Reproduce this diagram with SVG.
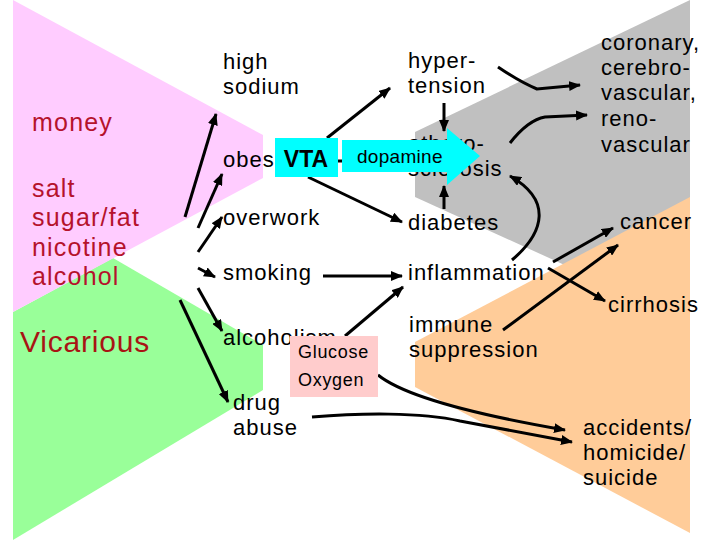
<svg xmlns="http://www.w3.org/2000/svg" width="720" height="540" viewBox="0 0 720 540">
<defs>
<style>
text{font-family:"Liberation Sans",Arial,sans-serif;}
.lbl{font-size:22px;letter-spacing:1px;fill:#000;}
.red{font-size:25px;letter-spacing:1.2px;fill:#b5122c;}
.con{fill:none;stroke:#000;stroke-width:3;marker-end:url(#ah);}
</style>
<marker id="ah" markerUnits="userSpaceOnUse" markerWidth="12" markerHeight="10" refX="11" refY="5" orient="auto">
<path d="M0,0 L12,5 L0,10 z" fill="#000"/>
</marker>
</defs>
<rect width="720" height="540" fill="#fff"/>
<g id="regions">
<polygon points="13,312 113,258 263,345 263,390 13,540" fill="#99ff99"/>
<polygon points="13,0 263,135 263,178 13,312" fill="#ffccff"/>
<polygon points="690,0 415,132 415,197 690,322" fill="#c0c0c0"/>
<polygon points="690,197 415,342 415,387 690,533" fill="#ffcc99"/>
</g>
<g id="causes">
<text class="red" x="32" y="131">money</text>
<text class="red" x="32" y="197">salt</text>
<text class="red" x="32" y="226">sugar/fat</text>
<text class="red" x="32" y="256">nicotine</text>
<text class="red" x="32" y="285">alcohol</text>
<text x="20" y="352" style="font-size:30px;letter-spacing:0.8px;fill:#a81414">Vicarious</text>
</g>
<g id="n-highsodium"><text class="lbl" x="223" y="69">high</text><text class="lbl" x="223" y="94">sodium</text></g>
<g id="n-obesity"><text class="lbl" x="223" y="167">obesity</text></g>
<g id="n-overwork"><text class="lbl" x="223" y="225">overwork</text></g>
<g id="n-smoking"><text class="lbl" x="223" y="280">smoking</text></g>
<g id="n-alcoholism"><text class="lbl" x="223" y="345">alcoholism</text></g>
<g id="n-drugabuse"><text class="lbl" x="233" y="410">drug</text><text class="lbl" x="233" y="435">abuse</text></g>
<g id="n-hypertension"><text class="lbl" x="408" y="68">hyper-</text><text class="lbl" x="408" y="93">tension</text></g>
<g id="n-atherosclerosis"><text class="lbl" x="408" y="151">athero-</text><text class="lbl" x="408" y="176">sclerosis</text></g>
<g id="n-diabetes"><text class="lbl" x="408" y="230">diabetes</text></g>
<g id="n-inflammation"><text class="lbl" x="408" y="280">inflammation</text></g>
<g id="n-immune"><text class="lbl" x="409" y="332">immune</text><text class="lbl" x="409" y="357">suppression</text></g>
<g id="n-vascular"><text class="lbl" x="601" y="50">coronary,</text><text class="lbl" x="601" y="75">cerebro-</text><text class="lbl" x="601" y="100">vascular,</text><text class="lbl" x="601" y="126">reno-</text><text class="lbl" x="601" y="152">vascular</text></g>
<g id="n-cancer"><text class="lbl" x="620" y="229">cancer</text></g>
<g id="n-cirrhosis"><text class="lbl" x="608" y="312">cirrhosis</text></g>
<g id="n-accidents"><text class="lbl" x="583" y="435">accidents/</text><text class="lbl" x="583" y="460">homicide/</text><text class="lbl" x="583" y="485">suicide</text></g>
<g id="connectors">
<line class="con" x1="185" y1="217" x2="216" y2="114"/>
<line class="con" x1="198" y1="228" x2="222" y2="174"/>
<line class="con" x1="198" y1="252" x2="222" y2="217"/>
<line class="con" x1="198" y1="268" x2="215" y2="277"/>
<line class="con" x1="198" y1="288" x2="222" y2="331"/>
<line class="con" x1="180" y1="300" x2="228" y2="402"/>
<line class="con" x1="327" y1="138" x2="390" y2="88"/>
<line class="con" x1="308" y1="177" x2="402" y2="222"/>
<line x1="330" y1="161" x2="350" y2="161" stroke="#000" stroke-width="3"/>
<line class="con" x1="444" y1="103" x2="444" y2="131"/>
<line class="con" x1="444" y1="209" x2="444" y2="186"/>
<path class="con" d="M498,67 Q520,82 537,89 L580,85"/>
<path class="con" d="M510,143 Q528,120 545,117 L587,115"/>
<path class="con" d="M512,260 C545,232 552,200 510,176"/>
<line class="con" x1="553" y1="262" x2="613" y2="228"/>
<line class="con" x1="503" y1="330" x2="618" y2="245"/>
<line class="con" x1="548" y1="268" x2="605" y2="301"/>
<line class="con" x1="323" y1="276" x2="402" y2="276"/>
<line class="con" x1="345" y1="336" x2="403" y2="287"/>
<path class="con" d="M378,375 Q414,404 565,430"/>
<path class="con" d="M312,417 C360,413 420,412 460,421 L572,442"/>
</g>
<g id="n-vta">
<rect x="275" y="138" width="63" height="39" fill="#00ffff"/>
<text x="306" y="167" text-anchor="middle" style="font-size:23px;font-weight:bold;fill:#000">VTA</text>
</g>
<g id="n-dopamine">
<polygon points="342,140 447,140 447,128 480,156 447,185 447,172 342,172" fill="#00ffff"/>
<text x="357" y="163" style="font-size:19px;letter-spacing:0.3px;fill:#000">dopamine</text>
</g>
<g id="n-glucose">
<rect x="290" y="336" width="88" height="61" fill="#ffcccc"/>
<text x="298" y="358" style="font-size:18px;letter-spacing:0.7px;fill:#000">Glucose</text>
<text x="298" y="386" style="font-size:18px;letter-spacing:0.7px;fill:#000">Oxygen</text>
</g>
</svg>
